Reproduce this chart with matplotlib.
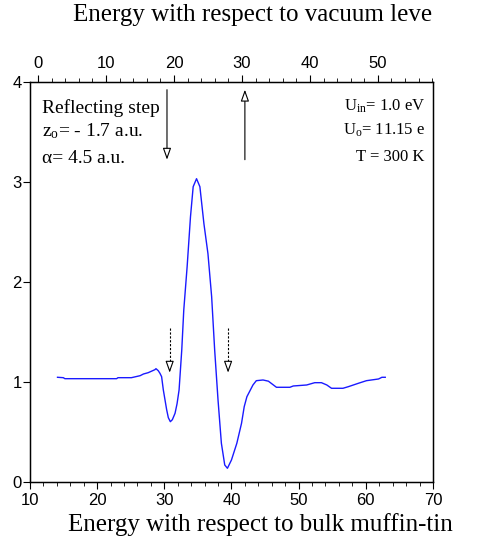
import matplotlib
matplotlib.use("Agg")
from matplotlib import pyplot as plt

plt.rcParams['mathtext.fontset'] = 'custom'
plt.rcParams['mathtext.rm'] = 'Liberation Serif'
plt.rcParams['mathtext.it'] = 'Liberation Serif:italic'
plt.rcParams['font.family'] = ['Liberation Sans', 'DejaVu Sans']

# curve (energy vs bulk muffin-tin zero, eV)
energy = [14.1, 14.96, 15.2, 17.0, 19.0, 21.0, 22.9, 23.1, 25.1, 26.4, 26.9, 27.6, 28.6,
          28.76, 29.1, 29.35, 29.6, 29.85, 30.1, 30.35, 30.6, 30.9, 31.2, 31.6, 31.9, 32.2,
          32.6, 32.9, 33.4, 33.9, 34.3, 34.8, 35.3, 35.9, 36.5, 37.05, 37.5, 38.0, 38.5,
          39.0, 39.4, 40.0, 40.8, 41.5, 41.9, 42.3, 43.2, 43.7, 44.7, 45.5, 46.7, 48.7,
          49.2, 51.2, 52.4, 53.4, 54.2, 54.9, 56.6, 57.4, 58.9, 60.1, 61.9, 62.4, 62.9]
intensity = [1.044, 1.04, 1.03, 1.03, 1.03, 1.03, 1.03, 1.04, 1.04, 1.06, 1.077, 1.09, 1.12,
             1.13, 1.11, 1.084, 1.05, 0.92, 0.82, 0.72, 0.64, 0.60, 0.62, 0.684, 0.78, 0.917,
             1.317, 1.717, 2.15, 2.65, 2.95, 3.03, 2.95, 2.58, 2.28, 1.85, 1.317, 0.817, 0.384,
             0.167, 0.134, 0.217, 0.384, 0.584, 0.75, 0.85, 0.967, 1.01, 1.017, 1.005, 0.944, 0.944,
             0.957, 0.967, 0.99, 0.99, 0.967, 0.934, 0.934, 0.95, 0.984, 1.01, 1.027, 1.044, 1.044]

solid_down_x = 30.4
solid_up_x = 42.0
dashed_x = [30.8, 39.5]

fig = plt.figure(figsize=(4.82, 5.4), dpi=100)
ax = fig.add_axes([0.0622, 0.108, 0.836, 0.7407])

ax.plot(energy, intensity, color='#1a1aff', lw=1.0)

ax.set_xlim(10, 70)
ax.set_ylim(0, 4)
ax.set_xticks([10, 20, 30, 40, 50, 60, 70])
ax.set_xticks(range(10, 71, 2), minor=True)
ax.set_yticks([0, 1, 2, 3, 4])
ax.tick_params(axis='x', which='major', direction='out', length=5, width=0.8, pad=3,
               labelsize=12)
ax.tick_params(axis='x', which='minor', direction='out', length=3, width=0.6)
ax.tick_params(axis='y', direction='out', length=5, width=0.8, pad=1, labelsize=12)
for s in ax.spines.values():
    s.set_linewidth(1.0)

top = ax.twiny()
top.set_xlim(-1.2, 58.1)
top.set_xticks([0, 10, 20, 30, 40, 50])
top.set_xticks(range(0, 59, 2), minor=True)
top.tick_params(axis='x', which='major', direction='out', length=5, width=0.8, pad=3,
                labelsize=12)
top.tick_params(axis='x', which='minor', direction='out', length=3, width=0.6)

# arrows
head = dict(arrowstyle='-|>,head_length=0.7,head_width=0.25', fc='white', ec='black',
            lw=0.8, shrinkA=0, shrinkB=0)
ax.annotate('', xy=(solid_down_x, 3.22), xytext=(solid_down_x, 3.92), arrowprops=head)
ax.annotate('', xy=(solid_up_x, 3.92), xytext=(solid_up_x, 3.22), arrowprops=head)
for x in dashed_x:
    ax.plot([x, x], [1.54, 1.15], color='black', lw=0.8, ls=(0, (2, 1.5)))
    ax.annotate('', xy=(x, 1.09), xytext=(x, 1.16), arrowprops=head)

serif = 'Liberation Serif'
ax.text(0.03, 0.921, 'Reflecting step', transform=ax.transAxes, family=serif,
        fontsize=14, va='baseline')
ax.text(0.03, 0.8625, 'z$_\\mathrm{o}$= - 1.7 a.u.', transform=ax.transAxes, family=serif,
        fontsize=14, va='baseline')
ax.text(0.03, 0.796, '\u03b1= 4.5 a.u.', transform=ax.transAxes, family=serif,
        fontsize=14, va='baseline')
ax.text(0.98, 0.929, 'U$_\\mathrm{in}$= 1.0 eV', transform=ax.transAxes, family=serif,
        fontsize=12, va='baseline', ha='right')
ax.text(0.98, 0.867, 'U$_\\mathrm{o}$= 11.15 e', transform=ax.transAxes, family=serif,
        fontsize=12, va='baseline', ha='right')
ax.text(0.98, 0.802, 'T = 300 K', transform=ax.transAxes, family=serif,
        fontsize=12, va='baseline', ha='right')

fig.text(0.152, 0.972, 'Energy with respect to vacuum leve', family=serif,
         fontsize=18, va='center', ha='left')
fig.text(0.141, 0.028, 'Energy with respect to bulk muffin-tin', family=serif,
         fontsize=18, va='center', ha='left')

fig.savefig('out.png', dpi=100)
